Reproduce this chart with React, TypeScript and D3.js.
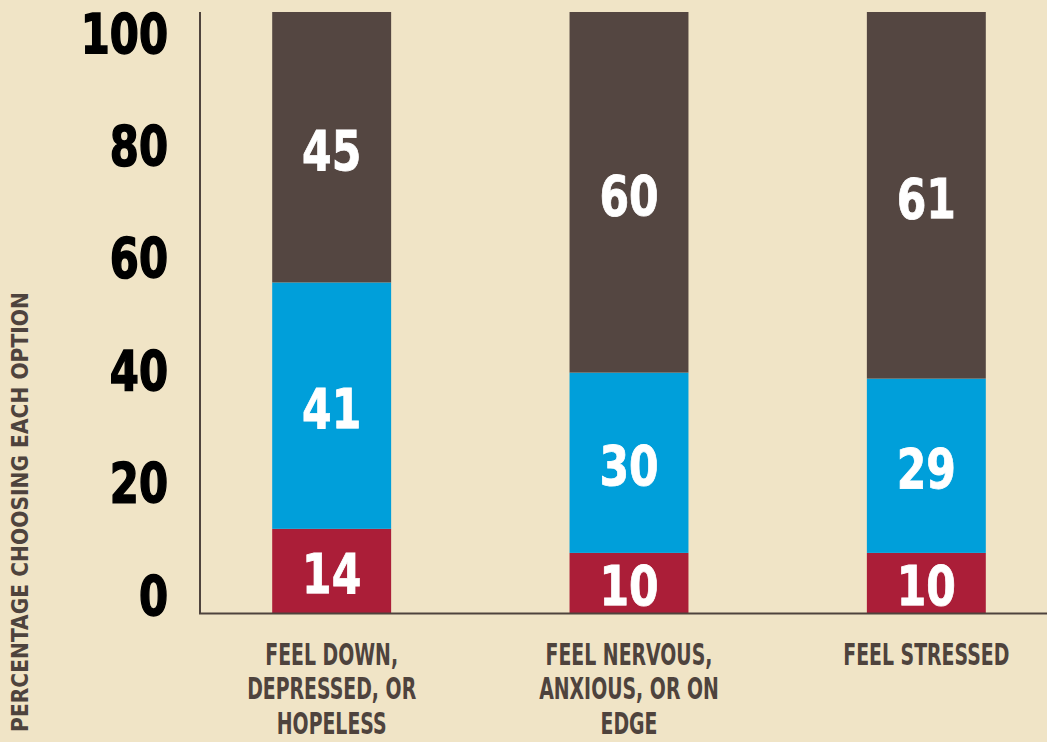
import React from "react";
import * as d3 from "d3";

const categories = [
  ["FEEL DOWN,", "DEPRESSED, OR", "HOPELESS"],
  ["FEEL NERVOUS,", "ANXIOUS, OR ON", "EDGE"],
  ["FEEL STRESSED"],
];
const seriesKeys = ["red", "blue", "brown"];
const redValues = [14, 10, 10];
const blueValues = [41, 30, 29];
const brownValues = [45, 60, 61];
const yTicks = [0, 20, 40, 60, 80, 100];
const yTitle = "PERCENTAGE CHOOSING EACH OPTION";

const colors: Record<string, string> = {
  red: "#AB1E38",
  blue: "#009FDA",
  brown: "#544641",
};

const W = 1047;
const H = 742;
const BG = "#F0E4C6";
const TEXT = "#4E433D";
const FONT = "'DejaVu Sans Condensed', 'DejaVu Sans', sans-serif";

export default function App() {
  const rows = categories.map((c, i) => ({
    idx: i,
    red: redValues[i],
    blue: blueValues[i],
    brown: brownValues[i],
  }));
  const stack = d3.stack<any>().keys(seriesKeys)(rows);

  const x = d3
    .scaleBand<number>()
    .domain(rows.map((r) => r.idx))
    .range([183, 1075])
    .paddingInner(0.6)
    .paddingOuter(0.3);
  const y = d3.scaleLinear().domain([0, 100]).range([613, 12]);
  const yLab = d3.scaleLinear().domain([0, 100]).range([595, 33]);

  return (
    <svg
      width={W}
      height={H}
      style={{ position: "absolute", left: 0, top: 0, background: BG }}
    >
      <rect x={0} y={0} width={W} height={H} fill={BG} />
      {stack.map((s) => (
        <g key={s.key} fill={colors[s.key]}>
          {s.map((d, i) => (
            <rect
              key={i}
              x={x(i)}
              y={y(d[1])}
              width={x.bandwidth()}
              height={y(d[0]) - y(d[1])}
            />
          ))}
        </g>
      ))}
      {stack.map((s) =>
        s.map((d, i) => (
          <text
            key={s.key + i}
            transform={`translate(${(x(i) as number) + x.bandwidth() / 2},${
              (y(d[0]) + y(d[1])) / 2 + 3
            }) scale(0.86,1)`}
            fill="#FFFFFF"
            stroke="#FFFFFF"
            strokeWidth={0.8}
            fontFamily={FONT}
            fontWeight="bold"
            fontSize={55}
            textAnchor="middle"
            dominantBaseline="central"
          >
            {d[1] - d[0]}
          </text>
        ))
      )}
      <line x1={200} x2={200} y1={12} y2={614} stroke={TEXT} strokeWidth={2} />
      <line x1={199} x2={W} y1={613.5} y2={613.5} stroke={TEXT} strokeWidth={2} />
      {yTicks.map((t) => (
        <text
          key={t}
          transform={`translate(168,${yLab(t)}) scale(0.83,1)`}
          fill="#000000"
          stroke="#000000"
          strokeWidth={1.5}
          fontFamily={FONT}
          fontWeight="bold"
          fontSize={56}
          textAnchor="end"
          dominantBaseline="central"
        >
          {t}
        </text>
      ))}
      {categories.map((lines, i) => {
        const cx = (x(i) as number) + x.bandwidth() / 2;
        return (
          <g key={i} transform={`translate(${cx},0) scale(0.7,1)`}>
            <text
              fill={TEXT}
              fontFamily={FONT}
              fontWeight="bold"
              fontSize={30}
              textAnchor="middle"
            >
              {lines.map((l, j) => (
                <tspan key={j} x={0} y={665 + j * 34.5}>
                  {l}
                </tspan>
              ))}
            </text>
          </g>
        );
      })}
      <text
        transform="translate(28,512) rotate(-90)"
        fill={TEXT}
        fontFamily={FONT}
        fontWeight="bold"
        fontSize={22.5}
        textAnchor="middle"
      >
        {yTitle}
      </text>
    </svg>
  );
}
